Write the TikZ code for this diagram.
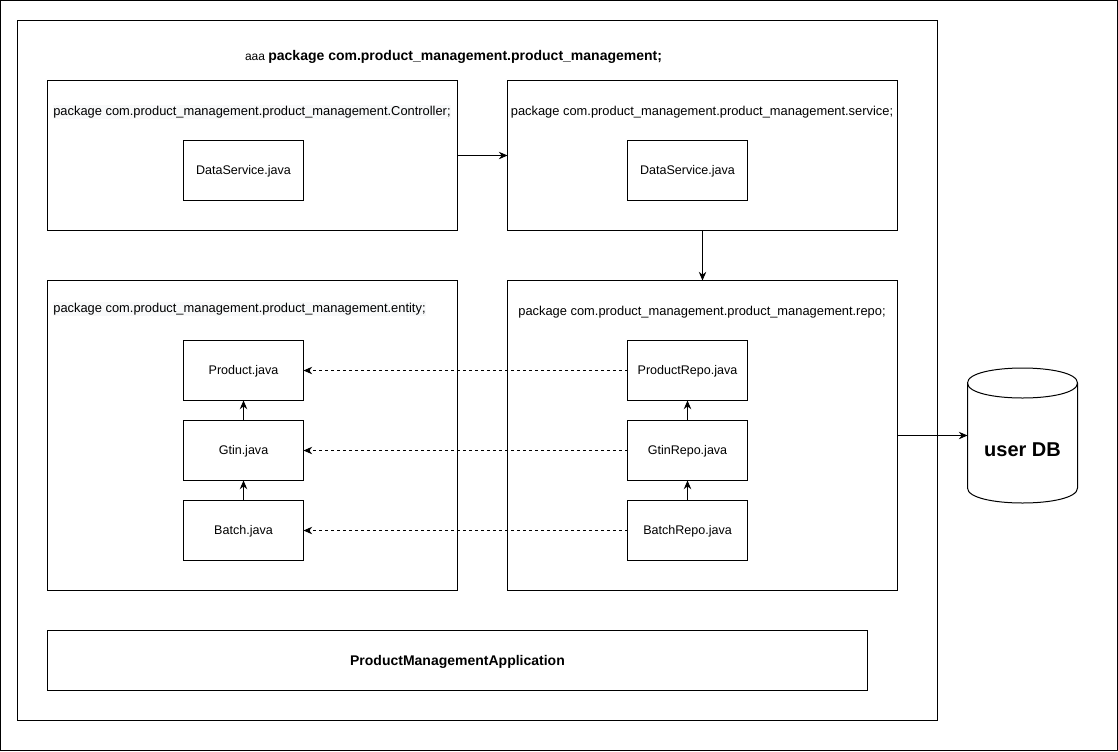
\documentclass[tikz,border=0pt]{standalone}
\usepackage{fontspec}
\setmainfont{Liberation Sans}
\usetikzlibrary{arrows.meta}
\tikzset{
  x=0.75pt,y=-0.75pt,
  every node/.style={inner sep=0pt,outer sep=0pt,font=\fontsize{9.4}{11}\selectfont,text=black},
  box/.style={draw=black,line width=0.75pt,fill=white},
  cls/.style={box,minimum width=90pt,minimum height=45pt,text depth=0pt,text height=5.9pt},
  lbl/.style={inner ysep=1pt,font=\fontsize{9.66}{11}\selectfont},
  lblbg/.style={lbl,fill=labelbg},
  arr/.style={draw=black,line width=0.75pt,-{Stealth[length=6.5pt,width=5.6pt]}},
  dep/.style={arr,dash pattern=on 2.25pt off 2.25pt},
}
\definecolor{labelbg}{HTML}{F8F9FA}
\begin{document}
\begin{tikzpicture}
\useasboundingbox (0,0) rectangle (1118,751);
\node[box,minimum width=837.75pt,minimum height=562.5pt] (frame) at (559,375.5) {};
\node[box,minimum width=690pt,minimum height=525pt] (outer) at (477.5,370.5) {};
\node (title) at (453.5,56.5) {\fontsize{9}{11}\selectfont aaa \fontsize{10.5}{12}\selectfont\bfseries package com.product\_management.product\_management;};
\node[box,minimum width=307.5pt,minimum height=112.5pt] (ctrl) at (252.5,155.5) {};
\node[box,minimum width=292.5pt,minimum height=112.5pt] (svc) at (702.5,155.5) {};
\node[box,minimum width=307.5pt,minimum height=232.5pt] (ent) at (252.5,435.5) {};
\node[box,minimum width=292.5pt,minimum height=232.5pt] (repo) at (702.5,435.5) {};
\node[box,minimum width=615pt,minimum height=45pt,text depth=0pt,text height=6.8pt,font=\fontsize{10.5}{12}\selectfont\bfseries] (app) at (457.5,660.5) {ProductManagementApplication};
\node[lblbg] (ctrlt) at (252,112) {package com.product\_management.product\_management.Controller;};
\node[lbl] (svct) at (702,112) {package com.product\_management.product\_management.service;};
\node[lblbg] (entt) at (239.5,309) {package com.product\_management.product\_management.entity;};
\node[lbl] (repot) at (702,312) {package com.product\_management.product\_management.repo;};
\node[cls] (ds1) at (243.5,170.5) {DataService.java};
\node[cls] (ds2) at (687.5,170.5) {DataService.java};
\node[cls] (product) at (243.5,370.5) {Product.java};
\node[cls] (gtin) at (243.5,450.5) {Gtin.java};
\node[cls] (batch) at (243.5,530.5) {Batch.java};
\node[cls] (prepo) at (687.5,370.5) {ProductRepo.java};
\node[cls] (grepo) at (687.5,450.5) {GtinRepo.java};
\node[cls] (brepo) at (687.5,530.5) {BatchRepo.java};
\node[minimum width=82.5pt,minimum height=101.25pt] (db) at (1022.5,435.5) {};
\draw[line width=0.75pt] (967.5,383) .. controls (967.5,363) and (1077.5,363) .. (1077.5,383)
  -- (1077.5,488) .. controls (1077.5,508) and (967.5,508) .. (967.5,488) -- cycle;
\draw[line width=0.75pt] (967.5,383) .. controls (967.5,403) and (1077.5,403) .. (1077.5,383);
\node[font=\fontsize{15}{18}\selectfont\bfseries] (dbt) at (db.center) [yshift=-10.5pt] {user DB};
\draw[arr] (ctrl.east) -- (svc.west);
\draw[arr] (svc.south) -- (repo.north);
\draw[arr] (repo.east) -- (db.west);
\draw[arr] (gtin.north) -- (product.south);
\draw[arr] (batch.north) -- (gtin.south);
\draw[arr] (grepo.north) -- (prepo.south);
\draw[arr] (brepo.north) -- (grepo.south);
\draw[dep] (prepo.west) -- (product.east);
\draw[dep] (grepo.west) -- (gtin.east);
\draw[dep] (brepo.west) -- (batch.east);
\end{tikzpicture}
\end{document}
